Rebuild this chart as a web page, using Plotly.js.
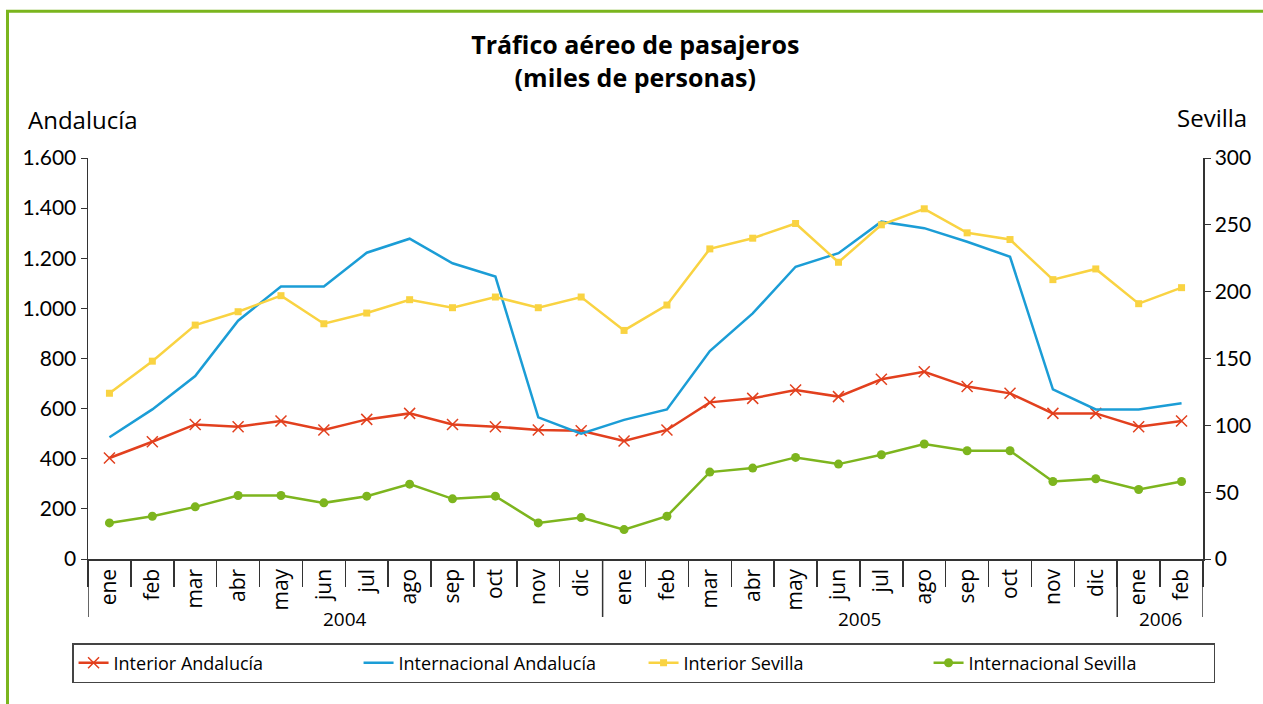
<!DOCTYPE html>
<html>
<head>
<meta charset="utf-8">
<script src="https://cdn.plot.ly/plotly-3.0.1.min.js"></script>
<style>html,body{margin:0;padding:0;background:#fff;}#chart{width:1263px;height:704px;}</style>
</head>
<body>
<div id="chart"></div>
<script>
const years = ['2004','2004','2004','2004','2004','2004','2004','2004','2004','2004','2004','2004',
               '2005','2005','2005','2005','2005','2005','2005','2005','2005','2005','2005','2005',
               '2006','2006'];
const months = ['ene','feb','mar','abr','may','jun','jul','ago','sep','oct','nov','dic',
                'ene','feb','mar','abr','may','jun','jul','ago','sep','oct','nov','dic',
                'ene','feb'];
const interiorAndalucia = [403,468,537,528,551,515,557,581,537,528,515,512,
                           471,515,625,641,674,648,717,747,688,661,581,581,528,551];
const internacionalAndalucia = [486,597,730,951,1087,1087,1222,1278,1180,1127,565,500,
                                555,597,830,980,1166,1220,1346,1320,1266,1206,677,597,597,621];
const interiorSevilla = [124,148,175,185,197,176,184,194,188,196,188,196,
                         171,190,232,240,251,222,250,262,244,239,209,217,191,203];
const internacionalSevilla = [27,32,39,47.5,47.5,42,47,56,45,47,27,31,
                              22,32,65,68,76,71,78,86,81,81,58,60,52,58];

const FONT = 'Lato, "Open Sans", sans-serif';
const FONT2 = '"Open Sans", Lato, sans-serif';
const idx = months.map((m, i) => i);

// year groups derived from the years array
const groups = [];
years.forEach((yr, i) => {
  const g = groups[groups.length - 1];
  if (g && g.year === yr) { g.end = i; } else { groups.push({year: yr, start: i, end: i}); }
});

const traces = [
  {name:'Interior Andalucía', x:idx, y:interiorAndalucia, type:'scatter', mode:'lines+markers',
   line:{color:'#E2401E', width:2.5}, marker:{symbol:'x-thin', size:11, line:{color:'#E2401E', width:1.5}}},
  {name:'Internacional Andalucía', x:idx, y:internacionalAndalucia, type:'scatter', mode:'lines',
   line:{color:'#1B9DD6', width:2.5}},
  {name:'Interior Sevilla', x:idx, y:interiorSevilla, type:'scatter', mode:'lines+markers', yaxis:'y2',
   line:{color:'#F9D342', width:2.5}, marker:{symbol:'square', size:7, color:'#F9D342'}},
  {name:'Internacional Sevilla', x:idx, y:internacionalSevilla, type:'scatter', mode:'lines+markers', yaxis:'y2',
   line:{color:'#7DB51E', width:2.5}, marker:{symbol:'circle', size:9, color:'#7DB51E'}}
];

const yearAnnotations = groups.map(g => ({
  text: g.year, xref:'x', yref:'paper', x:(g.start + g.end) / 2, y:-0.1496,
  xanchor:'center', yanchor:'middle', showarrow:false,
  font:{family:FONT2, size:19, color:'#000'}
}));
const dividerPos = [-0.5].concat(groups.map(g => g.end + 0.5));
const dividerShapes = dividerPos.map(p => ({
  type:'line', xref:'x', yref:'paper', x0:p, x1:p, y0:0, y1:-0.1446,
  line:{color:'#333', width:1.5}
}));

const layout = {
  width:1263, height:704,
  margin:{l:88, r:60, t:158, b:145},
  paper_bgcolor:'#fff', plot_bgcolor:'#fff',
  separators:',.',
  font:{family:FONT, color:'#000', size:19},
  title:{text:'<b>Tráfico aéreo de pasajeros<br>(miles de personas)</b>', x:0.503, xanchor:'center',
         yref:'container', y:0.9226, yanchor:'middle', font:{family:FONT2, size:25, color:'#000'}},
  showlegend:true,
  legend:{orientation:'h', x:-0.0143, xanchor:'left', y:-0.2095, yanchor:'top',
          bordercolor:'#444', borderwidth:1.5, font:{family:FONT2, size:18, color:'#000'},
          entrywidth:240, entrywidthmode:'pixels', traceorder:'normal', itemwidth:30},
  xaxis:{type:'linear', range:[-0.5, 25.5], autorange:false, showline:true, linecolor:'#333', linewidth:1.5,
         tickmode:'array', tickvals:idx, ticktext:months, ticks:'', tickangle:-90,
         minor:{tickmode:'linear', tick0:-0.5, dtick:1, ticks:'outside', ticklen:26, tickwidth:1.5, tickcolor:'#333', showgrid:false},
         showgrid:false, zeroline:false,
         tickfont:{family:FONT2, size:21, color:'#000'}, fixedrange:true},
  yaxis:{range:[0,1600], dtick:200, tickformat:',d', showline:true, linecolor:'#333', linewidth:1.5,
         ticks:'outside', ticklen:6, tickcolor:'#333', showgrid:false, zeroline:false,
         tickfont:{family:FONT, size:21, color:'#000'}},
  yaxis2:{range:[0,300], dtick:50, overlaying:'y', side:'right', showline:true, linecolor:'#333', linewidth:1.5,
          ticks:'outside', ticklen:6, tickcolor:'#333', showgrid:false, zeroline:false,
          tickfont:{family:FONT, size:21, color:'#000'}},
  annotations:[
    {text:'Andalucía', xref:'paper', yref:'paper', x:-0.0555, y:1.095, xanchor:'left', yanchor:'middle',
     showarrow:false, font:{family:FONT2, size:24, color:'#000'}},
    {text:'Sevilla', xref:'paper', yref:'paper', x:1.0412, y:1.102, xanchor:'right', yanchor:'middle',
     showarrow:false, font:{family:FONT2, size:24, color:'#000'}}
  ].concat(yearAnnotations),
  shapes:[
    {type:'rect', xref:'paper', yref:'paper', x0:-0.0722, x1:1.2, y0:-0.5, y1:1.366,
     line:{color:'#7AB51D', width:3}, fillcolor:'rgba(0,0,0,0)', layer:'below'}
  ].concat(dividerShapes)
};

Plotly.newPlot('chart', traces, layout, {displayModeBar:false, staticPlot:true});
</script>
</body>
</html>
